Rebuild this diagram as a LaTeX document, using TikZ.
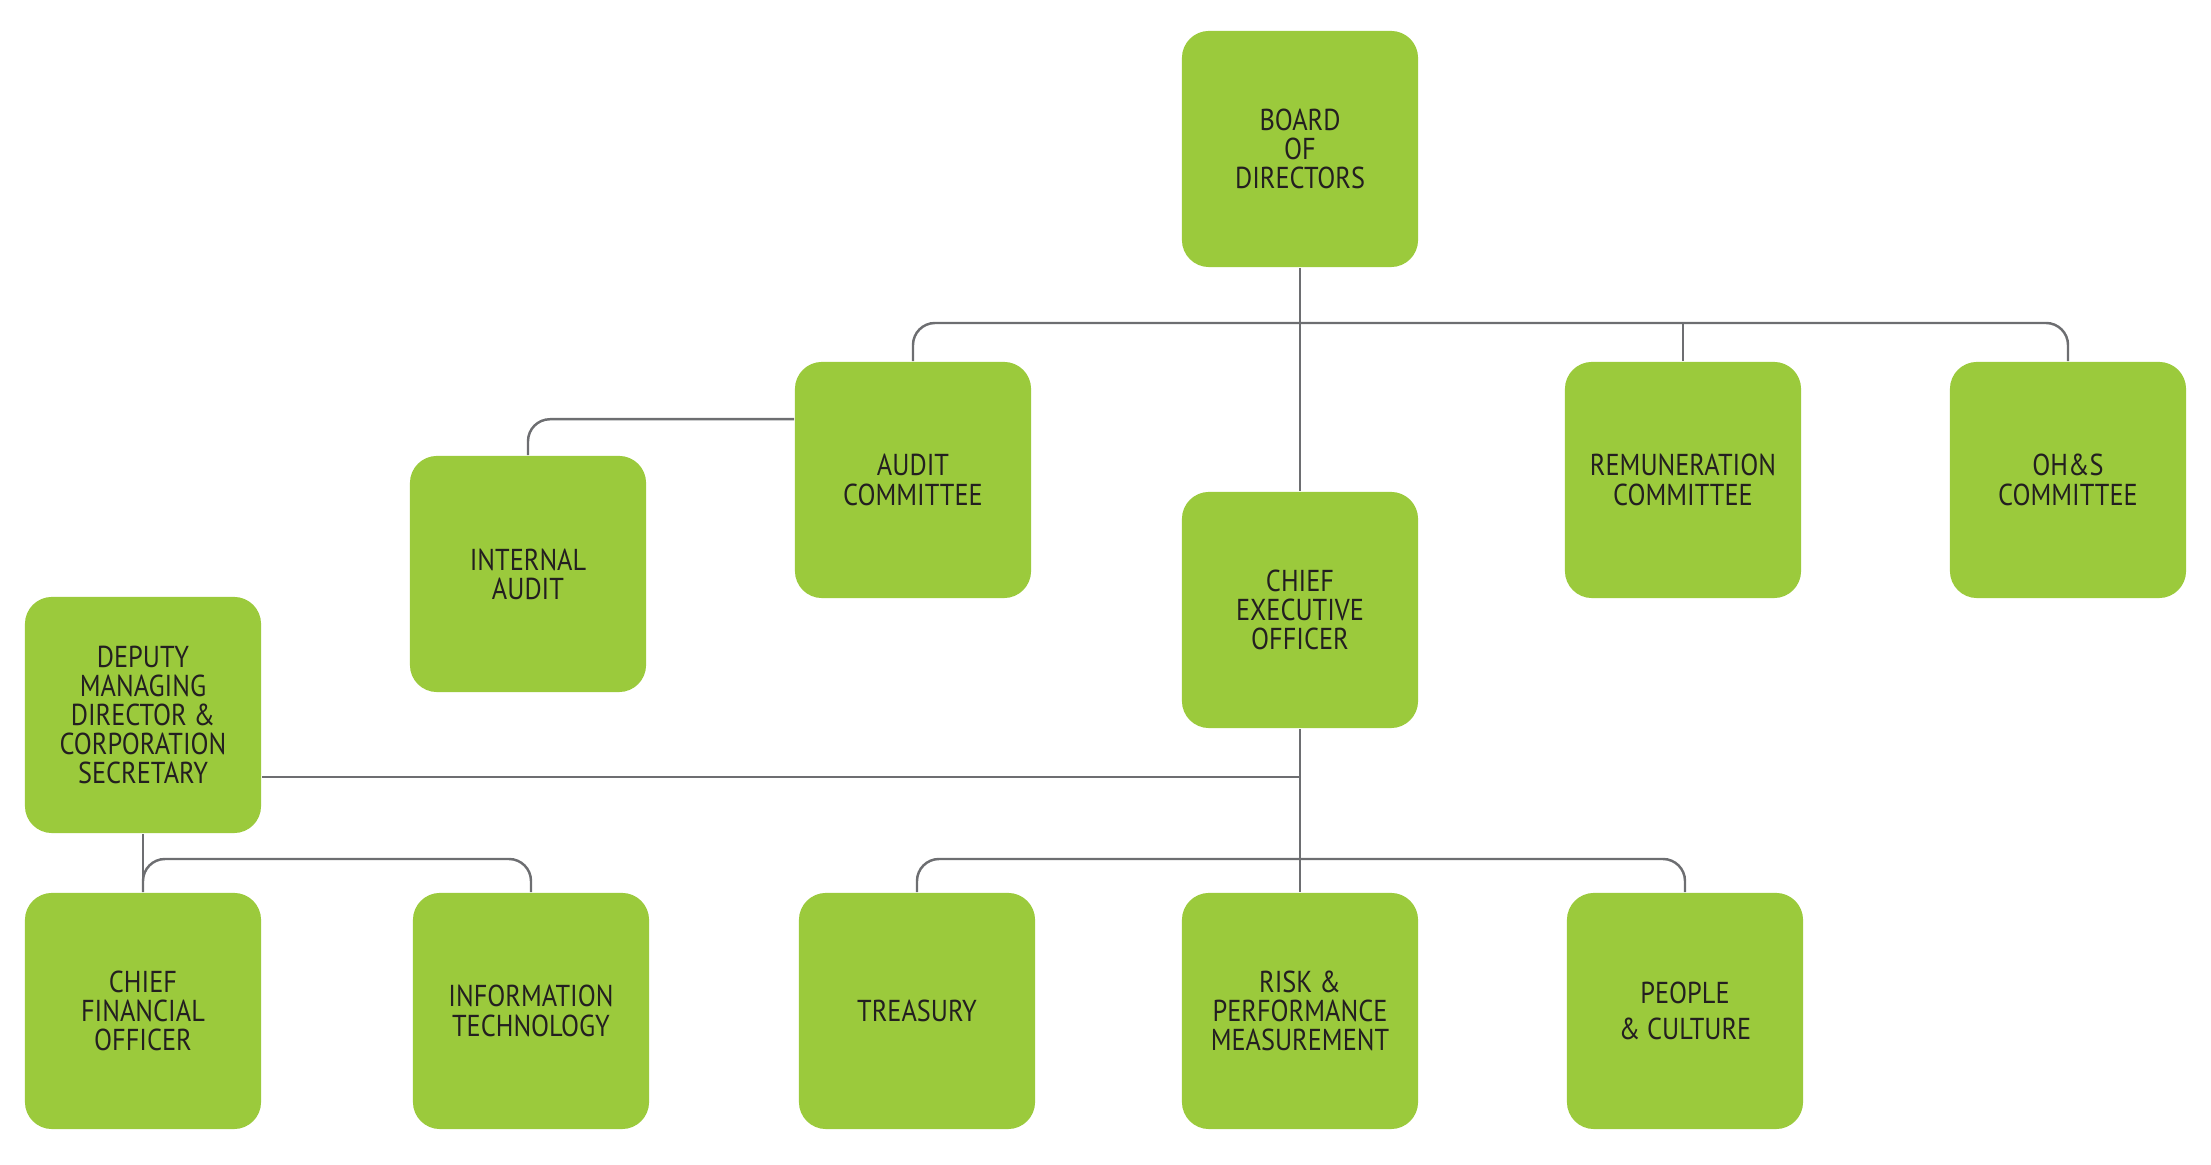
\documentclass[tikz,border=0pt]{standalone}
\usepackage{fontspec}
\setmainfont{PT Sans}[FakeStretch=0.87]
\usepackage{tikz}
\usetikzlibrary{positioning, calc}
\definecolor{leafgreen}{HTML}{9BCA3C}
\definecolor{inkgray}{HTML}{231F20}
\definecolor{linegray}{HTML}{6D6E71}
\tikzset{
	orgbox/.style={fill=leafgreen, rounded corners=0.27cm, minimum width=2.36cm,
		minimum height=2.36cm, inner sep=0pt, align=center, text=inkgray,
		font=\fontsize{8.6}{8.3}\selectfont}
}
\tikzset{
	link/.style={draw=linegray, line width=0.7pt, rounded corners=0.22cm}
}

\begin{document}
\begin{tikzpicture}[x=0.01cm, y=-0.01cm]
      \useasboundingbox (0,0) rectangle (2211,1165);

      % board and its committees
      \node[orgbox] (board) at (1300,149) {BOARD\\OF\\DIRECTORS};
      \node[orgbox] (audit) at (913,480) {AUDIT\\COMMITTEE};
      \node[orgbox] (intaudit) at (528,574) {INTERNAL\\AUDIT};
      \node[orgbox] (rem) at (1683,480) {REMUNERATION\\COMMITTEE};
      \node[orgbox] (ohs) at (2068,480) {OH\&S\\COMMITTEE};
      \node[orgbox] (ceo) at (1300,610) {CHIEF\\EXECUTIVE\\OFFICER};

      % management
      \node[orgbox] (deputy) at (143,715) {DEPUTY\\MANAGING\\DIRECTOR \&\\CORPORATION\\SECRETARY};
      \node[orgbox] (cfo) at (143,1011) {CHIEF\\FINANCIAL\\OFFICER};
      \node[orgbox] (it) at (531,1011) {INFORMATION\\TECHNOLOGY};
      \node[orgbox] (treasury) at (917,1011) {TREASURY};
      \node[orgbox] (risk) at (1300,1011) {RISK \&\\PERFORMANCE\\MEASUREMENT};
      \node[orgbox] (people) at (1685,1011) {PEOPLE\\[0.6mm]\& CULTURE};

      \coordinate (topbus) at (1300,323);
      \coordinate (iabus) at ($(audit.north west)+(0,58)$);
      \coordinate (depbus) at ($(deputy.east)+(0,62)$);
      \coordinate (lowbus) at (1300,859);

      \draw[link] (board.south) -- (ceo.north);
      \draw[link] (audit.north) |- (topbus) -| (ohs.north);
      \draw[link] (rem.north) -- (rem.north |- topbus);
      \draw[link] (iabus) -| (intaudit.north);

      % ceo and deputy reports
      \draw[link] (ceo.south) -- (risk.north);
      \draw[link] (depbus) -- (depbus -| ceo.south);
      \draw[link] (treasury.north) |- (lowbus) -| (people.north);
      \draw[link] (deputy.south) -- (cfo.north);
      \draw[link] (it.north) |- (cfo.north |- lowbus) -- (cfo.north);
    \end{tikzpicture}
\end{document}
